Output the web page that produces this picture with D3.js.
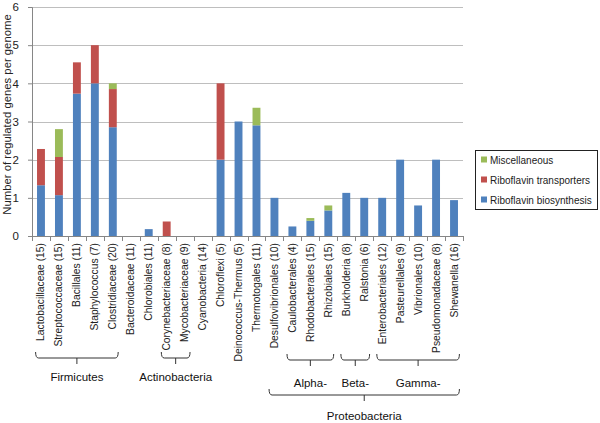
<!DOCTYPE html>
<html><head><meta charset="utf-8">
<script src="https://cdn.jsdelivr.net/npm/d3@7"></script>
<style>body{margin:0;background:#fff}svg{display:block}</style>
</head><body><svg id="c" width="600" height="423"></svg>
<script>
const categories = ["Lactobacillaceae (15)","Streptococcaceae (15)","Bacillales (11)","Staphylococcus (7)","Clostridiaceae (20)","Bacteroidaceae (11)","Chlorobiales (11)","Corynebacteriaceae (8)","Mycobacteriaceae (9)","Cyanobacteria (14)","Chloroflexi (5)","Deinococcus-Thermus (5)","Thermotogales (11)","Desulfovibrionales (10)","Caulobacterales (4)","Rhodobacterales (15)","Rhizobiales (15)","Burkholderia (8)","Ralstonia (6)","Enterobacteriales (12)","Pasteurellales (9)","Vibrionales (10)","Pseudomonadaceae (8)","Shewanella (16)"];
const biosynthesis = [1.33,1.07,3.73,4.0,2.85,0,0.18,0,0,0,2.0,3.0,2.9,1.0,0.25,0.4,0.67,1.13,1.0,1.0,2.0,0.8,2.0,0.94];
const transporters = [0.95,1.0,0.82,1.0,1.0,0,0,0.38,0,0,2.0,0,0,0,0,0,0,0,0,0,0,0,0,0];
const miscellaneous = [0,0.73,0,0,0.15,0,0,0,0,0,0,0,0.46,0,0,0.07,0.13,0,0,0,0,0,0,0];
const seriesNames = ["Riboflavin biosynthesis","Riboflavin transporters","Miscellaneous"];
const seriesColors = ["#4F81BD","#C0504D","#9BBB59"];
const yTicks = [0,1,2,3,4,5,6];
const groupNames = ["Firmicutes","Actinobacteria","Alpha-","Beta-","Gamma-","Proteobacteria"];
const groupFirst = ["Lactobacillaceae (15)","Corynebacteriaceae (8)","Caulobacterales (4)","Burkholderia (8)","Enterobacteriales (12)","Desulfovibrionales (10)"];
const groupLast = ["Clostridiaceae (20)","Mycobacteriaceae (9)","Rhizobiales (15)","Ralstonia (6)","Shewanella (16)","Shewanella (16)"];
const groupLevel = [0,0,1,1,1,2];

const svg = d3.select("#c");
const L = 32, R = 463, T = 7, B = 236;
const x = d3.scaleBand().domain(categories).range([L, R]).paddingInner(0.56).paddingOuter(0.28);
const y = d3.scaleLinear().domain([0, 6]).range([B, T]);
const step = x.step();
const FONT = "Liberation Sans, Arial, sans-serif";

// gridlines
svg.append("g").selectAll("line").data(yTicks.filter(d => d > 0)).join("line")
  .attr("x1", L).attr("x2", R).attr("y1", d => Math.round(y(d)) + 0.5).attr("y2", d => Math.round(y(d)) + 0.5)
  .attr("stroke", "#BEBEBE").attr("stroke-width", 1);

// stacked bars
const rows = categories.map((c, i) => ({cat: c, s0: biosynthesis[i], s1: transporters[i], s2: miscellaneous[i]}));
const stack = d3.stack().keys(["s0","s1","s2"])(rows);
svg.append("g").selectAll("g").data(stack).join("g")
  .attr("fill", (d, i) => seriesColors[i])
  .selectAll("rect").data(d => d.filter(p => p[1] - p[0] > 0)).join("rect")
  .attr("x", d => x(d.data.cat)).attr("width", x.bandwidth())
  .attr("y", d => y(d[1])).attr("height", d => y(d[0]) - y(d[1]));

// y axis
const yAxis = svg.append("g").attr("transform", `translate(${L},0)`)
  .call(d3.axisLeft(y).tickValues(yTicks).tickSize(4).tickPadding(9).tickFormat(d3.format("d")));
yAxis.select(".domain").attr("stroke", "#868686");
yAxis.selectAll(".tick line").attr("stroke", "#868686");
yAxis.selectAll("text").attr("font-family", FONT).attr("font-size", 11.5).attr("fill", "#222");

// x axis: line + boundary ticks
svg.append("line").attr("x1", L - 4).attr("x2", R).attr("y1", B + 0.5).attr("y2", B + 0.5).attr("stroke", "#868686");
const bounds = d3.range(categories.length + 1).map(i => L + i * step);
svg.append("g").selectAll("line").data(bounds).join("line")
  .attr("x1", d => Math.round(d) + 0.5).attr("x2", d => Math.round(d) + 0.5)
  .attr("y1", B).attr("y2", B + 5).attr("stroke", "#868686");

// category labels
svg.append("g").selectAll("text").data(categories).join("text")
  .attr("transform", d => `translate(${x(d) + x.bandwidth()/2 + 3.5},${B + 7}) rotate(-90)`)
  .attr("text-anchor", "end")
  .attr("font-family", FONT).attr("font-size", 10.3).attr("fill", "#222")
  .text(d => d);

// y title
svg.append("text").attr("transform", `translate(11,${(T + B) / 2 - 7}) rotate(-90)`)
  .attr("text-anchor", "middle").attr("font-family", FONT)
  .attr("font-size", 11.3).attr("fill", "#222").text("Number of regulated genes per genome");

// group brackets
const levelTop = [352, 354, 389];
const levelLabel = [381, 386.5, 420];
const cx = c => x(c) + x.bandwidth() / 2;
groupNames.forEach((g, i) => {
  const l = cx(groupFirst[i]) - 0.3 * step, r = cx(groupLast[i]) + 0.3 * step;
  const t = levelTop[groupLevel[i]], b = t + 6, m = (l + r) / 2;
  svg.append("path")
    .attr("d", `M${l},${t} Q${l},${b} ${l+3},${b} L${r-3},${b} Q${r},${b} ${r},${t} M${m},${b} L${m},${b+6}`)
    .attr("fill", "none").attr("stroke", "#333").attr("stroke-width", 1);
  svg.append("text").attr("x", m).attr("y", levelLabel[groupLevel[i]])
    .attr("text-anchor", "middle").attr("font-family", FONT)
    .attr("font-size", 11.5).attr("fill", "#111").text(g);
});

// legend
const lg = svg.append("g");
lg.append("rect").attr("x", 475.5).attr("y", 150.5).attr("width", 122).attr("height", 59)
  .attr("fill", "#fff").attr("stroke", "#222");
const legendOrder = [2, 1, 0];
legendOrder.forEach((si, k) => {
  const yy = 160 + k * 20;
  lg.append("rect").attr("x", 481).attr("y", yy - 3.5).attr("width", 6).attr("height", 6).attr("fill", seriesColors[si]);
  lg.append("text").attr("x", 490).attr("y", yy + 3.5).attr("font-family", FONT)
    .attr("font-size", 10).attr("fill", "#222").text(seriesNames[si]);
});
</script></body></html>
